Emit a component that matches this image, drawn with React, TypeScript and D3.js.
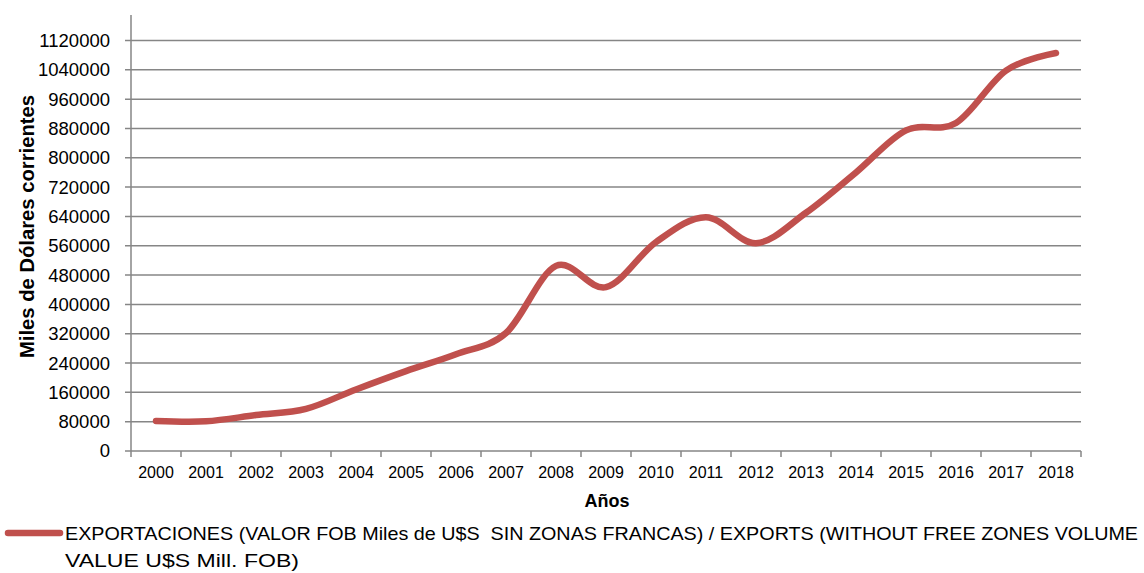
import React from "react";
import * as d3 from "d3";

const years: string[] = ["2000","2001","2002","2003","2004","2005","2006","2007","2008","2009","2010","2011","2012","2013","2014","2015","2016","2017","2018"];
const exportsValues: number[] = [82000, 81000, 98000, 115000, 168000, 218000, 264000, 322000, 505000, 447000, 570000, 638000, 567000, 650000, 760000, 875000, 895000, 1038000, 1086000];
const yTicks: number[] = [0, 80000, 160000, 240000, 320000, 400000, 480000, 560000, 640000, 720000, 800000, 880000, 960000, 1040000, 1120000];
const seriesLabel1 = "EXPORTACIONES (VALOR FOB Miles de U$S  SIN ZONAS FRANCAS) / EXPORTS (WITHOUT FREE ZONES VOLUME";
const seriesLabel2 = "VALUE U$S Mill. FOB)";
const xTitle = "Años";
const yTitle = "Miles de Dólares corrientes";

const W = 1144, H = 573;
const left = 131, right = 1081, top = 15, bottom = 451;
const FONT = "'Liberation Sans', Arial, sans-serif";

export default function App() {
  const x = d3.scaleBand<string>().domain(years).range([left, right]);
  const y = d3.scaleLinear().domain([0, 1120000]).range([bottom, 40.5]);
  const line = d3.line<number>()
    .x((_, i) => (x(years[i]) as number) + x.bandwidth() / 2)
    .y((d) => y(d))
    .curve(d3.curveCatmullRom.alpha(0));
  const grid = "#868686";
  const red = "#C0504D";
  const boundaries = years.map((yr) => x(yr) as number).concat([right]);
  return (
    <svg width={W} height={H} style={{ position: "absolute", left: 0, top: 0 }}>
      <rect x={0} y={0} width={W} height={H} fill="#fff" />
      {yTicks.map((t) => (
        <g key={t}>
          <line x1={125} x2={right} y1={y(t)} y2={y(t)} stroke={grid} strokeWidth={1.5} />
          <text x={110} y={y(t)} dy="0.35em" textAnchor="end" fontFamily={FONT} fontSize={18.5} fill="#000">{t}</text>
        </g>
      ))}
      <line x1={left} x2={left} y1={top} y2={bottom} stroke={grid} strokeWidth={1.5} />
      {boundaries.map((bx, i) => (
        <line key={i} x1={bx} x2={bx} y1={bottom} y2={bottom + 6} stroke={grid} strokeWidth={1.5} />
      ))}
      {years.map((yr) => (
        <text key={yr} x={(x(yr) as number) + x.bandwidth() / 2} y={478} textAnchor="middle" fontFamily={FONT} fontSize={16} fill="#000">{yr}</text>
      ))}
      <path d={line(exportsValues) || ""} fill="none" stroke={red} strokeWidth={6.5} strokeLinecap="round" strokeLinejoin="round" />
      <text x={607} y={507} textAnchor="middle" fontFamily={FONT} fontSize={18} fontWeight="bold" fill="#000">{xTitle}</text>
      <text transform="translate(34,226.5) rotate(-90)" textAnchor="middle" fontFamily={FONT} fontSize={19.5} fontWeight="bold" fill="#000" textLength={263} lengthAdjust="spacingAndGlyphs">{yTitle}</text>
      <line x1={8} x2={60} y1={533} y2={533} stroke={red} strokeWidth={6.5} strokeLinecap="round" />
      <text x={65} y={540} fontFamily={FONT} fontSize={18.5} fill="#000" textLength={1073} lengthAdjust="spacingAndGlyphs" xmlSpace="preserve">{seriesLabel1}</text>
      <text x={65} y={567} fontFamily={FONT} fontSize={18.5} fill="#000" textLength={234} lengthAdjust="spacingAndGlyphs">{seriesLabel2}</text>
    </svg>
  );
}
